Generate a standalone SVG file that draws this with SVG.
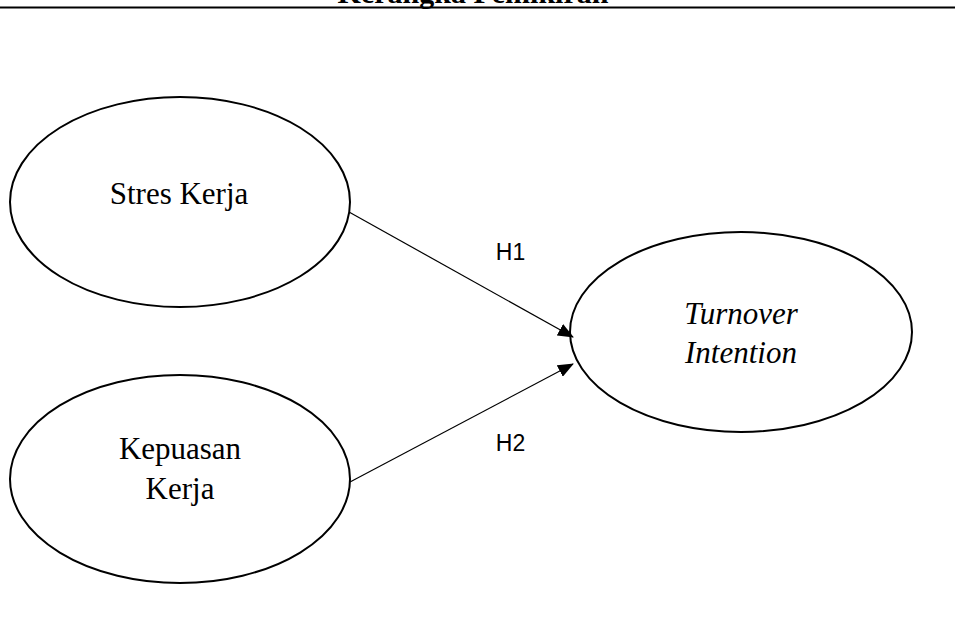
<svg xmlns="http://www.w3.org/2000/svg" width="955" height="635" viewBox="0 0 955 635">
<style>
.node ellipse{fill:#fff;stroke:#000;stroke-width:2}
.lbl{font-family:"Liberation Serif","Times New Roman",serif;font-size:31px;fill:#000;text-anchor:middle}
.it{font-style:italic}
.h{font-family:"Liberation Sans",Arial,sans-serif;font-size:23px;fill:#000;text-anchor:middle}
.conn line{stroke:#000;stroke-width:1.2}
</style>
<defs>
<marker id="arr" markerWidth="16" markerHeight="13" refX="15" refY="6.5" orient="auto" markerUnits="userSpaceOnUse">
<path d="M0,0 L16,6.5 L0,13 Z" fill="#000"/>
</marker>
</defs>
<rect width="955" height="635" fill="#fff"/>
<text x="473" y="3" font-family="Liberation Serif,'Times New Roman',serif" font-weight="bold" font-size="30" text-anchor="middle">Kerangka Pemikiran</text>
<line x1="0" y1="7.5" x2="955" y2="7.5" stroke="#000" stroke-width="2.2"/>
<g id="stres" class="node">
<ellipse cx="180" cy="202" rx="170" ry="105"/>
<text class="lbl" x="179" y="204">Stres Kerja</text>
</g>
<g id="kepuasan" class="node">
<ellipse cx="180" cy="479" rx="170" ry="104"/>
<text class="lbl" x="180" y="459">Kepuasan</text>
<text class="lbl" x="180" y="499">Kerja</text>
</g>
<g id="turnover" class="node">
<ellipse cx="741" cy="332" rx="171" ry="100"/>
<text class="lbl it" x="741" y="324">Turnover</text>
<text class="lbl it" x="741" y="363">Intention</text>
</g>
<g class="conn" id="connectors">
<line x1="349" y1="212" x2="573" y2="337" marker-end="url(#arr)"/>
<line x1="350" y1="482" x2="573" y2="364" marker-end="url(#arr)"/>
<text class="h" x="510.5" y="260">H1</text>
<text class="h" x="510.5" y="451">H2</text>
</g>
</svg>
